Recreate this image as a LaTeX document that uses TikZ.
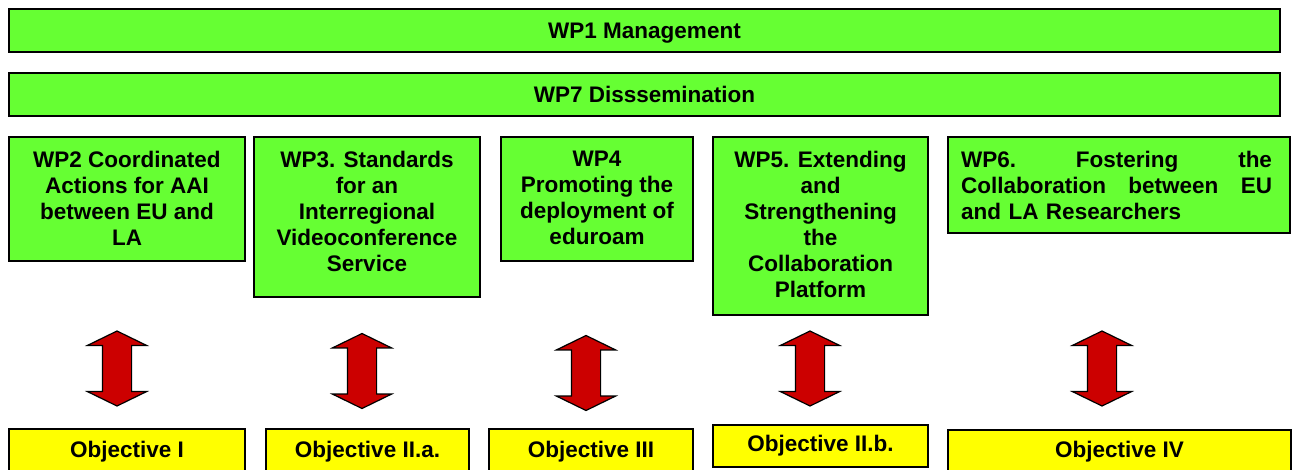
\documentclass[tikz,border=0pt]{standalone}
\usepackage{fontspec}
\setmainfont{Liberation Sans}
\usetikzlibrary{shapes.arrows}
\definecolor{wpgreen}{RGB}{102,255,51}
\definecolor{objyellow}{RGB}{255,255,0}
\definecolor{arrowred}{RGB}{204,0,0}

\begin{document}
\begin{tikzpicture}[x=1pt, y=-1pt, semithick,
                wpbox/.style={draw, line width=1.2pt, fill=wpgreen, inner sep=0pt},
                objbox/.style={draw, line width=1.2pt, fill=objyellow, inner sep=0pt,
                               font=\bfseries\fontsize{22.5}{26}\selectfont},
                wptext/.style={align=center, inner sep=0pt, anchor=north, yshift=-14.4pt,
                               font=\bfseries\fontsize{22.5}{26}\selectfont},
                updown/.style={double arrow, draw, line width=1.2pt, fill=arrowred, rotate=90,
                               minimum height=75pt, inner xsep=0pt, inner ysep=14pt,
                               double arrow head extend=15pt, double arrow tip angle=128}]
                \useasboundingbox (0, 0) rectangle (1292, 470);
                % management and dissemination
                \node[wpbox, minimum width=1271pt, minimum height=43pt, text depth=0pt, font=\bfseries\fontsize{22.5}{26}\selectfont] (wp1) at (644.5, 30.5) {WP1 Management};
                \node[wpbox, minimum width=1271pt, minimum height=43pt, text depth=0pt, font=\bfseries\fontsize{22.5}{26}\selectfont] (wp7) at (644.5, 94.5) {WP7 Disssemination};
                % work packages
                \node[wpbox, minimum width=236pt, minimum height=124pt] (wp2) at (127, 199) {};
                \node[wpbox, minimum width=226pt, minimum height=160pt] (wp3) at (367, 217) {};
                \node[wpbox, minimum width=192pt, minimum height=124pt] (wp4) at (597, 199) {};
                \node[wpbox, minimum width=215pt, minimum height=178pt] (wp5) at (820.5, 226) {};
                \node[wpbox, minimum width=342pt, minimum height=96pt] (wp6) at (1119, 185) {};
                \node[wptext] (wp2t) at (wp2.north) {WP2 Coordinated\\Actions for AAI\\between EU and\\LA};
                \node[wptext] (wp3t) at (wp3.north) {WP3. Standards\\for an\\Interregional\\Videoconference\\Service};
                \node[wptext] (wp4t) at (wp4.north) {WP4\\Promoting the\\deployment of\\eduroam};
                \node[wptext] (wp5t) at (wp5.north) {WP5. Extending\\and\\Strengthening\\the\\Collaboration\\Platform};
                \node[wptext, align=left, text width=311pt, xshift=-2.5pt] (wp6t) at (wp6.north) {WP6.\hfill Fostering\hfill the\\Collaboration\hfill between\hfill EU\\and LA Researchers};
                % objectives
                \node[objbox, minimum width=236pt, minimum height=46pt] (ob1) at (127, 452) {Objective I};
                \node[objbox, minimum width=203pt, minimum height=46pt] (ob2a) at (367.5, 452) {Objective II.a.};
                \node[objbox, minimum width=204pt, minimum height=46pt] (ob3) at (591, 452) {Objective III};
                \node[objbox, minimum width=215pt, minimum height=42pt] (ob2b) at (820.5, 446) {Objective II.b.};
                \node[objbox, minimum width=343pt, minimum height=44pt] (ob4) at (1119.5, 452) {Objective IV};
                % links
                \node[updown] (ar1) at (117, 368.5) {};
                \node[updown] (ar2) at (362, 371) {};
                \node[updown] (ar3) at (586, 373) {};
                \node[updown] (ar4) at (810, 368.5) {};
                \node[updown] (ar5) at (1102, 368.5) {};
            \end{tikzpicture}
\end{document}
